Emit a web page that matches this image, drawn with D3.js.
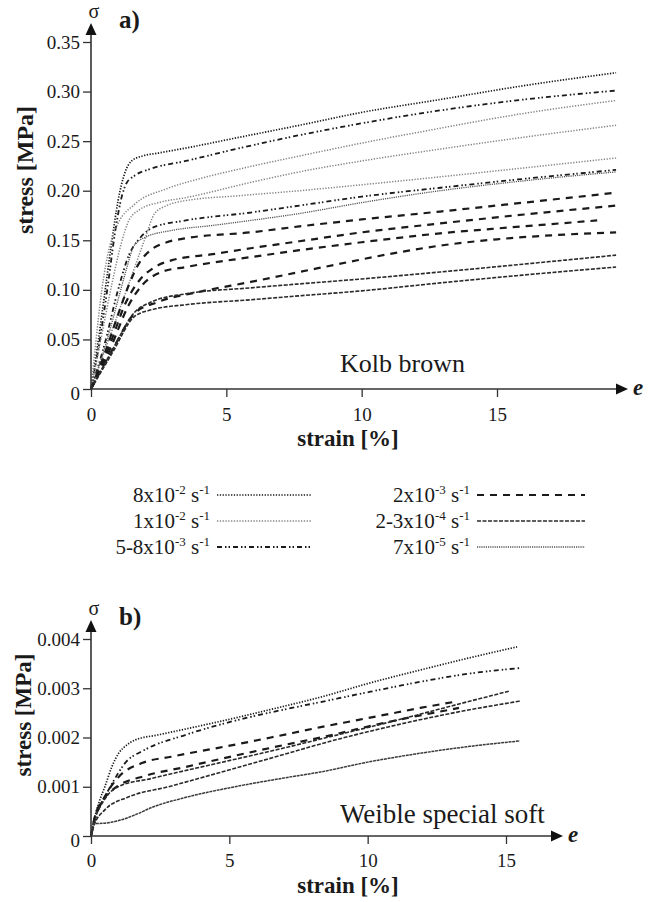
<!DOCTYPE html>
<html>
<head>
<meta charset="utf-8">
<script src="https://cdn.jsdelivr.net/npm/d3@7"></script>
<style>
  body { margin: 0; background: #fff; }
  text { font-family: "Liberation Serif", "Times New Roman", serif; fill: #1a1a1a; }
</style>
</head>
<body>
<svg width="652" height="902"></svg>
<script>
// ---- data: [strain %, stress MPa] ----
// a) Kolb brown
const kolb_a = [[0,0],[0.25,0.045],[0.5,0.095],[0.75,0.145],[1.0,0.19],[1.25,0.218],[1.5,0.23],[1.9,0.235],[2.5,0.238],[3.5,0.243],[5.5,0.254],[7.7,0.266],[10,0.279],[12.9,0.292],[16,0.306],[19.4,0.319]]
const kolb_b = [[0,0],[0.3,0.045],[0.6,0.1],[0.9,0.16],[1.1,0.19],[1.3,0.207],[1.6,0.215],[2.2,0.222],[3.5,0.23],[5.5,0.243],[7.7,0.256],[10,0.268],[12.9,0.281],[16,0.292],[19.4,0.301]]
const kolb_c = [[0,0],[0.15,0.04],[0.4,0.1],[0.7,0.145],[1.0,0.167],[1.6,0.186],[2.8,0.202],[4,0.212],[5.5,0.222],[7.7,0.235],[10,0.248],[12.9,0.263],[16,0.278],[19.4,0.291]]
const kolb_d = [[0,0],[0.4,0.055],[0.78,0.107],[1.1,0.145],[1.4,0.17],[1.8,0.181],[2.5,0.188],[3.5,0.193],[6,0.209],[7.7,0.219],[10,0.23],[12.9,0.242],[16,0.254],[19.4,0.266]]
const kolb_e = [[0,0],[0.5,0.038],[1.0,0.076],[1.5,0.114],[2.0,0.152],[2.35,0.177],[2.8,0.185],[3.5,0.19],[5.5,0.195],[7.7,0.2],[10,0.206],[12.9,0.214],[16,0.223],[19.4,0.233]]
const kolb_f = [[0,0],[0.5,0.045],[1.0,0.1],[1.4,0.135],[1.8,0.152],[2.3,0.163],[3.5,0.17],[5.9,0.178],[7.7,0.185],[10,0.194],[12.9,0.203],[16,0.212],[19.4,0.221]]
const kolb_g = [[0,0],[0.6,0.05],[1.0,0.09],[1.3,0.12],[1.6,0.145],[2.0,0.153],[3.0,0.16],[4.5,0.165],[5.9,0.17],[7.7,0.177],[10,0.188],[12.9,0.2],[16,0.21],[19.4,0.219]]
const kolb_h = [[0,0],[0.5,0.035],[1.0,0.075],[1.4,0.105],[1.8,0.128],[2.2,0.14],[2.8,0.148],[3.5,0.152],[5.9,0.158],[7.7,0.164],[10,0.171],[12.9,0.179],[16,0.188],[19.4,0.198]]
const kolb_i = [[0,0],[0.7,0.045],[1.3,0.088],[1.8,0.11],[2.3,0.122],[3.0,0.13],[4.5,0.136],[5.9,0.142],[7.7,0.149],[10,0.158],[12.9,0.167],[16,0.176],[19.4,0.185]]
const kolb_j = [[0,0],[0.7,0.04],[1.4,0.085],[1.9,0.105],[2.6,0.118],[3.5,0.123],[5.9,0.133],[7.7,0.14],[10,0.148],[12.9,0.157],[15.5,0.163],[18.7,0.17]]
const kolb_k = [[0,0],[0.8,0.04],[1.6,0.076],[2.5,0.088],[4,0.098],[5.9,0.108],[7.7,0.118],[9.5,0.128],[11.4,0.138],[13,0.145],[15,0.151],[17,0.155],[19.4,0.158]]
const kolb_l = [[0,0],[0.8,0.04],[1.6,0.077],[2.25,0.088],[3.5,0.096],[5.9,0.102],[7.7,0.106],[10,0.111],[12.9,0.118],[16,0.126],[19.4,0.135]]
const kolb_m = [[0,0],[0.8,0.037],[1.6,0.073],[2.25,0.08],[3.5,0.085],[5.9,0.09],[7.7,0.094],[10,0.099],[12.9,0.107],[16,0.115],[19.4,0.123]]

// b) Weible special soft
const weib_a = [[0,0],[0.1,0.0003],[0.3,0.0007],[0.5,0.001],[0.75,0.0014],[1.0,0.00168],[1.3,0.00185],[1.6,0.00195],[2.4,0.00205],[3.4,0.00217],[4.85,0.00235],[6.5,0.00257],[8.3,0.00282],[10.1,0.00311],[11.9,0.00337],[13.7,0.00362],[15.4,0.00384]]
const weib_b = [[0,0],[0.1,0.0003],[0.5,0.00079],[0.9,0.0012],[1.23,0.00148],[1.95,0.00175],[3.4,0.00205],[4.85,0.00229],[6.5,0.00251],[8.3,0.00272],[10.1,0.00293],[11.9,0.00313],[13.7,0.0033],[15.5,0.00341]]
const weib_c = [[0,0],[0.1,0.0003],[0.5,0.0008],[1.0,0.0012],[1.84,0.00148],[2.9,0.00161],[4.6,0.00179],[6.5,0.002],[8.3,0.00221],[9.5,0.00234],[10.7,0.00247],[11.9,0.0026],[13.1,0.00272]]
const weib_d = [[0,0],[0.1,0.00025],[0.4,0.0007],[0.7,0.0009],[0.98,0.00102],[1.95,0.00122],[3.4,0.0014],[5.2,0.00163],[7.0,0.00185],[8.3,0.002],[10.7,0.00231],[13.3,0.0026]]
const weib_e = [[0,0],[0.1,0.00025],[0.5,0.00075],[0.98,0.001],[2.2,0.00117],[4.6,0.00148],[7.0,0.00179],[8.3,0.00197],[10.7,0.0023],[13.3,0.00268],[15.1,0.00294]]
const weib_f = [[0,0],[0.1,0.0002],[0.5,0.00053],[1.34,0.00079],[2.8,0.001],[4.6,0.00128],[7.0,0.00166],[8.3,0.00187],[10.7,0.00221],[13.1,0.0025],[15.5,0.00274]]
const weib_g = [[0,0],[0.1,0.00025],[0.5,0.00026],[0.98,0.00031],[1.6,0.00043],[2.2,0.00058],[3.4,0.00078],[5.2,0.001],[7.0,0.00118],[8.3,0.0013],[10,0.0015],[11.9,0.00168],[13.7,0.00182],[15.5,0.00193]]

// strain rates (legend) and which curve uses which
const rateKeys   = ["8e-2", "1e-2", "5-8e-3", "2e-3", "2-3e-4", "7e-5"]
const rateMain   = ["8x10", "1x10", "5-8x10", "2x10", "2-3x10", "7x10"]
const rateExp    = ["-2", "-2", "-3", "-3", "-4", "-5"]
const kolbCurves = [kolb_a, kolb_b, kolb_c, kolb_d, kolb_e, kolb_f, kolb_g, kolb_h, kolb_i, kolb_j, kolb_k, kolb_l, kolb_m]
const kolbRates  = ["8e-2", "5-8e-3", "1e-2", "1e-2", "1e-2", "5-8e-3", "7e-5", "2e-3", "2e-3", "2e-3", "2e-3", "2-3e-4", "2-3e-4"]
const weibCurves = [weib_a, weib_b, weib_c, weib_d, weib_e, weib_f, weib_g]
const weibRates  = ["8e-2", "5-8e-3", "2e-3", "2e-3", "2-3e-4", "2-3e-4", "noisy"]

const kolbYTicks = [0, 0.05, 0.10, 0.15, 0.20, 0.25, 0.30, 0.35]
const weibYTicks = [0, 0.001, 0.002, 0.003, 0.004]
const xTicks = [0, 5, 10, 15]

// ---- styles ----
const style = {
  "8e-2":   {stroke: "#1a1a1a", w: 1.7, dash: "1.3,1.5"},
  "1e-2":   {stroke: "#858585", w: 1.5, dash: "1.3,1.5"},
  "5-8e-3": {stroke: "#1a1a1a", w: 1.8, dash: "5,3,1.5,2,1.5,3"},
  "2e-3":   {stroke: "#1a1a1a", w: 2.2, dash: "7,6"},
  "2-3e-4": {stroke: "#2a2a2a", w: 1.6, dash: "4,1.5"},
  "7e-5":   {stroke: "#555",    w: 1.3, dash: "1.2,1"},
  "noisy":  {stroke: "#3a3a3a", w: 1.5, dash: "3,0.7"}
}

const svg = d3.select("svg")
const axisCol = "#333"

function panel(p) {
  const g = svg.append("g")
  const x = p.x, y = p.y

  // curves
  const line = d3.line().x(d => x(d[0])).y(d => y(d[1])).curve(d3.curveMonotoneX)
  p.curves.forEach((c, i) => {
    const s = style[p.rates[i]]
    g.append("path").datum(c)
      .attr("d", line)
      .attr("fill", "none")
      .attr("stroke", s.stroke)
      .attr("stroke-width", s.w)
      .attr("stroke-dasharray", s.dash)
  })

  // axes
  const x0 = x(0), y0 = y(0)
  const ax = g.append("g").attr("transform", `translate(0,${y0})`)
  ax.call(d3.axisBottom(x).tickValues(p.xMinor).tickSize(5).tickFormat(""))
  ax.call(d3.axisBottom(x).tickValues(xTicks).tickSize(8).tickPadding(p.xPad).tickFormat(d3.format("d")))
  const ay = g.append("g").attr("transform", `translate(${x0},0)`)
  ay.call(d3.axisLeft(y).tickValues(p.yMinor).tickSize(5).tickFormat(""))
  ay.call(d3.axisLeft(y).tickValues(p.yTicks).tickSize(8).tickPadding(3).tickFormat(p.fmt))
  g.selectAll(".domain").remove()
  g.selectAll(".tick line").attr("stroke", axisCol).attr("stroke-width", 1.3)
  g.selectAll(".tick text").attr("font-size", 19).attr("fill", "#1a1a1a")
    .style("font-family", "'Liberation Serif', serif")
  ay.selectAll(".tick text").filter(d => d === 0).attr("dy", "0.55em")

  g.append("line").attr("x1", x0).attr("x2", p.xEnd - 8).attr("y1", y0).attr("y2", y0)
    .attr("stroke", axisCol).attr("stroke-width", 1.6)
  g.append("line").attr("x1", x0).attr("x2", x0).attr("y1", y0).attr("y2", p.yEnd + 8)
    .attr("stroke", axisCol).attr("stroke-width", 1.6)
  g.append("path").attr("d", `M${p.xEnd},${y0} L${p.xEnd - 12},${y0 - 5.5} L${p.xEnd - 12},${y0 + 5.5} Z`).attr("fill", "#111")
  g.append("path").attr("d", `M${x0},${p.yEnd} L${x0 - 5.5},${p.yEnd + 12} L${x0 + 5.5},${p.yEnd + 12} Z`).attr("fill", "#111")

  // labels
  g.append("text").attr("x", x0 + 3).attr("y", p.yEnd - 5).attr("text-anchor", "middle")
    .attr("font-size", 20).text("σ")
  g.append("text").attr("x", 119).attr("y", p.yEnd + 5).attr("font-size", 25)
    .attr("font-weight", "bold").text(p.letter)
  g.append("text").attr("x", p.xEnd + 5).attr("y", y0 + 6).attr("font-size", 23)
    .attr("font-weight", "bold").attr("font-style", "italic").text("e")
  g.append("text").attr("transform", `translate(${p.yLabX},${p.yLabY}) rotate(-90)`)
    .attr("text-anchor", "middle").attr("font-size", p.yLabSize).attr("font-weight", "bold").text("stress [MPa]")
  g.append("text").attr("x", 348).attr("y", y0 + 57).attr("text-anchor", "middle")
    .attr("font-size", 23).attr("font-weight", "bold").text("strain [%]")
  g.append("text").attr("x", 340).attr("y", p.nameY).attr("font-size", p.nameSize).text(p.name)
}

panel({
  x: d3.scaleLinear().domain([0, 15]).range([91, 497]),
  y: d3.scaleLinear().domain([0, 0.35]).range([389, 42]),
  xEnd: 628, yEnd: 23, xPad: 11,
  xMinor: [2.5, 7.5, 12.5, 17.5],
  yTicks: kolbYTicks,
  yMinor: d3.range(1, 14, 2).map(i => i * 0.025),
  fmt: d => d === 0 ? "0" : d3.format(".2f")(d),
  curves: kolbCurves, rates: kolbRates,
  letter: "a)", name: "Kolb brown", nameY: 372, nameSize: 26,
  yLabX: 33, yLabY: 170, yLabSize: 24
})

panel({
  x: d3.scaleLinear().domain([0, 15]).range([91, 506]),
  y: d3.scaleLinear().domain([0, 0.004]).range([836, 639]),
  xEnd: 563, yEnd: 620, xPad: 10,
  xMinor: [2.5, 7.5, 12.5],
  yTicks: weibYTicks,
  yMinor: [0.0005, 0.0015, 0.0025, 0.0035],
  fmt: d => d === 0 ? "0" : d3.format(".3f")(d),
  curves: weibCurves, rates: weibRates,
  letter: "b)", name: "Weible special soft", nameY: 823, nameSize: 27,
  yLabX: 31, yLabY: 715, yLabSize: 23
})

// legend
const leg = svg.append("g")
rateKeys.forEach((k, i) => {
  const col = Math.floor(i / 3), row = i % 3
  const tx = col ? 470 : 210, ly = 495 + row * 26
  const t = leg.append("text").attr("x", tx).attr("y", ly + 7).attr("text-anchor", "end").attr("font-size", 21)
  t.append("tspan").text(rateMain[i])
  t.append("tspan").attr("dy", -8).attr("font-size", 13).text(rateExp[i])
  t.append("tspan").attr("dy", 8).text(" s")
  t.append("tspan").attr("dy", -8).attr("font-size", 13).text("-1")
  const s = style[k]
  leg.append("line").attr("x1", tx + 7).attr("x2", tx + (col ? 115 : 102)).attr("y1", ly).attr("y2", ly)
    .attr("stroke", s.stroke).attr("stroke-width", s.w).attr("stroke-dasharray", s.dash)
})
</script>
</body>
</html>
